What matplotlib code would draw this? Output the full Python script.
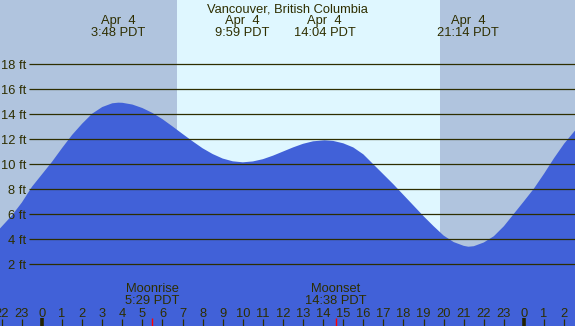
import matplotlib
matplotlib.use("Agg")
import matplotlib.pyplot as plt

plt.rcParams['font.family'] = ['Liberation Sans', 'DejaVu Sans']

# ---- data (hours from midnight Apr 4, PDT; heights in ft) ----
hours = [-2.09, -1.5, -1.0, -0.5, 0.0, 0.5, 1.0, 1.5, 2.0, 2.5, 3.0, 3.5, 3.8,
         4.0, 4.5, 5.0, 5.5, 6.0, 6.5, 7.0, 7.5, 8.0, 8.5, 9.0, 9.5, 10.0,
         10.5, 11.0, 11.5, 12.0, 12.5, 13.0, 13.5, 14.07, 14.5, 15.0, 15.5,
         16.0, 16.5, 17.0, 17.5, 18.0, 18.5, 19.0, 19.5, 20.0, 20.5, 21.0,
         21.23, 21.5, 22.0, 22.5, 23.0, 23.5, 24.0, 24.5, 25.0, 25.5, 26.0, 26.54]
heights = [4.87, 5.9, 6.95, 8.2, 9.2, 10.2, 11.3, 12.35, 13.25, 14.05, 14.58, 14.88, 14.93,
           14.92, 14.78, 14.5, 14.11, 13.61, 13.03, 12.43, 11.84, 11.28, 10.82, 10.46, 10.24, 10.16,
           10.23, 10.41, 10.69, 11.02, 11.35, 11.64, 11.84, 11.92, 11.87, 11.68, 11.35,
           10.8, 10.0, 9.2, 8.4, 7.55, 6.7, 5.85, 5.05, 4.3, 3.78, 3.48,
           3.41, 3.45, 3.75, 4.25, 5.05, 6.05, 7.05, 8.07, 9.25, 10.5, 11.65, 12.7]

extreme_hours = [3.80, 9.98, 14.07, 21.23]
extreme_labels = ["3:48 PDT", "9:59 PDT", "14:04 PDT", "21:14 PDT"]
extreme_date = "Apr  4"

sunrise, sunset = 6.72, 19.82
moon_hours = [5.48, 14.63]
moon_names = ["Moonrise", "Moonset"]
moon_labels = ["5:29 PDT", "14:38 PDT"]

grid_levels = [2, 4, 6, 8, 10, 12, 14, 16, 18]
tick_hours = list(range(-2, 27))
midnights = [0, 24]

title = "Vancouver, British Columbia"

# ---- styling ----
W, H = 575, 326
night_c = '#B0C4DE'
day_c = '#DFF7FF'
water_c = '#4161D8'
ink = '#2E2E00'
FS = 9.25
x0, x1 = -2.09, 26.54
y0, y1 = -2.93, 23.14

fig = plt.figure(figsize=(W / 100, H / 100), dpi=100)
ax = fig.add_axes([0, 0, 1, 1])
ax.set_xlim(x0, x1)
ax.set_ylim(y0, y1)
ax.axis('off')

ax.axvspan(x0, sunrise, color=night_c, lw=0, zorder=0)
ax.axvspan(sunrise, sunset, color=day_c, lw=0, zorder=0)
ax.axvspan(sunset, x1, color=night_c, lw=0, zorder=0)

ax.fill_between(hours, heights, y0, color=water_c, lw=0, zorder=1)

ytr = ax.get_yaxis_transform()
xtr = ax.get_xaxis_transform()
px_per_ft = H / (y1 - y0)

ax.hlines(grid_levels, 29 / W, 1, transform=ytr, color=ink, lw=0.9, zorder=2)
for lv in grid_levels:
    ax.text(26 / W, lv - 4.6 / px_per_ft, f"{lv} ft", transform=ytr, ha='right',
            va='baseline', fontsize=FS, color=ink, zorder=3)

def fy(px):
    return 1 - px / H

ax.text(0.5, fy(12.5), title, transform=ax.transAxes, ha='center', va='baseline',
        fontsize=FS, color=ink)
for hx, lab in zip(extreme_hours, extreme_labels):
    ax.text(hx, fy(24), extreme_date, transform=xtr, ha='center', va='baseline',
            fontsize=FS, color=ink)
    ax.text(hx, fy(36), lab, transform=xtr, ha='center', va='baseline',
            fontsize=FS, color=ink)

for hx, nm, lab in zip(moon_hours, moon_names, moon_labels):
    ax.text(hx, fy(292.5), nm, transform=xtr, ha='center', va='baseline',
            fontsize=FS, color=ink)
    ax.text(hx, fy(304.3), lab, transform=xtr, ha='center', va='baseline',
            fontsize=FS, color=ink)

for t in tick_hours:
    ax.text(t, fy(316.7), str(t % 24), transform=xtr, ha='center', va='baseline',
            fontsize=FS, color=ink)

regular = [t for t in tick_hours if t not in midnights]
ax.vlines(regular, 0, fy(319), transform=xtr, color=ink, lw=0.9, zorder=3)
ax.vlines(midnights, 0, fy(318), transform=xtr, color='#222200', lw=2.6, zorder=3)
ax.vlines(moon_hours, 0, fy(318), transform=xtr, color='red', lw=1.0, zorder=3)

fig.savefig("out.png", dpi=100)
